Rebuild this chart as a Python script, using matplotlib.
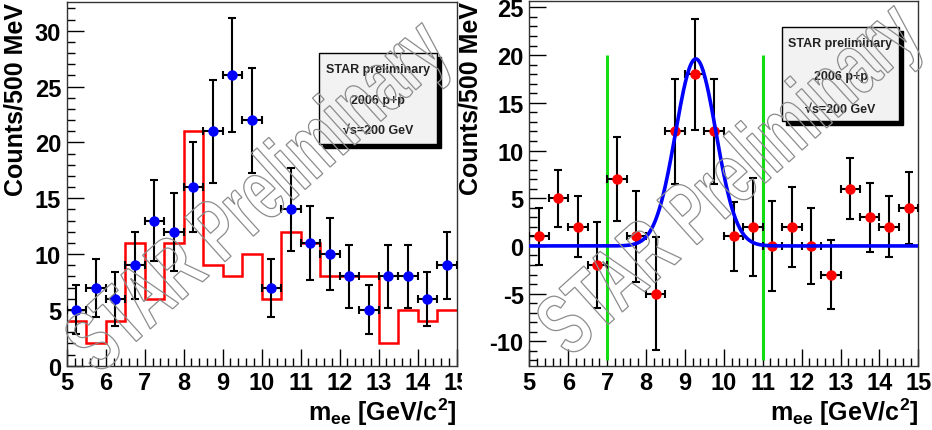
import numpy as np
import matplotlib
matplotlib.use("Agg")
import matplotlib.pyplot as plt
from matplotlib.patches import Rectangle, PathPatch
from matplotlib.textpath import TextPath
from matplotlib.font_manager import FontProperties
from matplotlib.transforms import Affine2D
from matplotlib.ticker import MultipleLocator

plt.rcParams["font.family"] = ["Liberation Sans", "DejaVu Sans"]
plt.rcParams["font.weight"] = "bold"
plt.rcParams["mathtext.fontset"] = "custom"
plt.rcParams["mathtext.rm"] = "Liberation Sans:bold"
plt.rcParams["mathtext.bf"] = "Liberation Sans:bold"
plt.rcParams["mathtext.default"] = "bf"
plt.rcParams["axes.unicode_minus"] = False

# bins of 500 MeV from 5 to 15 GeV/c^2
edges = np.linspace(5, 15, 21)
centers = edges[:-1] + 0.25

# left: unlike-sign counts and like-sign background
counts_left = [5, 7, 6, 9, 13, 12, 16, 21, 26, 22, 7, 14, 11, 10, 8, 5, 8, 8, 6, 9]
err_left = [2.2, 2.6, 2.4, 3.0, 3.6, 3.5, 4.0, 4.6, 5.1, 4.7,
            2.6, 3.7, 3.3, 3.2, 2.8, 2.2, 2.8, 2.8, 2.4, 3.0]
bkg_left = [4, 2, 4, 11, 6, 11, 21, 9, 8, 10, 6, 12, 11, 8, 8, 8, 2, 5, 4, 5]

# right: background subtracted
counts_right = [1, 5, 2, -2, 7, 1, -5, 12, 18, 12, 1, 2, 0, 2, 0, -3, 6, 3, 2, 4]
err_right = [3.0, 3.0, 3.2, 4.5, 4.4, 4.8, 5.9, 5.5, 5.8, 5.5,
             3.6, 5.1, 4.7, 4.2, 4.0, 3.6, 3.2, 3.6, 3.2, 3.8]

# gaussian fit parameters
fit_amp, fit_mean, fit_sigma = 19.6, 9.28, 0.52
window = [7, 11]

W, H = 932, 431
fig = plt.figure(figsize=(W / 100, H / 100), dpi=100)


def px_axes(x0, x1, ytop, ybot):
    return fig.add_axes([x0 / W, (H - ybot) / H, (x1 - x0) / W, (ybot - ytop) / H])


def style(ax, ymajor):
    ax.set_xlim(5, 15)
    ax.xaxis.set_major_locator(MultipleLocator(1))
    ax.xaxis.set_minor_locator(MultipleLocator(0.2))
    ax.yaxis.set_major_locator(MultipleLocator(ymajor))
    ax.yaxis.set_minor_locator(MultipleLocator(1))
    ax.tick_params(which="both", direction="in", top=False, right=False,
                   labelsize=17, width=1, pad=4)
    ax.tick_params(which="major", length=12)
    ax.tick_params(which="minor", length=6)
    for s in ax.spines.values():
        s.set_linewidth(1)
        s.set_color("#333333")
    ax.set_ylabel("Counts/500 MeV", loc="top", fontsize=18, fontweight="bold", labelpad=5)
    ax.set_xlabel(r"m$_{ee}$ [GeV/c$^{2}$]", loc="right", fontsize=18,
                  fontweight="bold", labelpad=1)


def star_box(ax, x0, x1, y0, y1, ys):
    dx, dy = 4 / 390, 4 / 365
    ax.add_patch(Rectangle((x0 + dx, y0 - dy), x1 - x0, y1 - y0, transform=ax.transAxes,
                           facecolor="black", edgecolor="black", zorder=5))
    ax.add_patch(Rectangle((x0, y0), x1 - x0, y1 - y0, transform=ax.transAxes,
                           facecolor="#f2f2f2", edgecolor="black", lw=1, zorder=6))
    xc = (x0 + x1) / 2
    for txt, yy in zip(["STAR preliminary", "2006 p+p", "√s=200 GeV"], ys):
        ax.text(xc, yy, txt, transform=ax.transAxes, ha="center", va="center",
                fontsize=9, fontweight="bold", zorder=7, color="#222222")


# left panel
ax1 = px_axes(66.7, 456.7, 2.7, 366.7)
ax1.stairs(bkg_left, edges, baseline=None, color="red", lw=1.8, zorder=2)
ax1.errorbar(centers, counts_left, yerr=err_left, xerr=0.25, fmt="o", color="blue",
             markersize=6.5, ecolor="black", elinewidth=1.5, capsize=3, capthick=1.5,
             zorder=3)
ax1.set_ylim(0, 32.6)
style(ax1, 5)
star_box(ax1, 0.648, 0.949, 0.609, 0.858, [0.815, 0.729, 0.647])

# right panel
ax2 = px_axes(529.3, 918.3, 1.7, 366.7)
xf = np.linspace(5, 14.95, 400)
yf = fit_amp * np.exp(-0.5 * ((xf - fit_mean) / fit_sigma) ** 2)
ax2.vlines(window, -12, 20, color="#11dd11", lw=2.2, zorder=2)
ax2.errorbar(centers, counts_right, yerr=err_right, xerr=0.25, fmt="o", color="red",
             markersize=6.5, ecolor="black", elinewidth=1.5, capsize=3, capthick=1.5,
             zorder=3)
ax2.plot(xf, yf, color="blue", lw=2.6, zorder=4)
ax2.set_ylim(-12.55, 25.7)
style(ax2, 5)
star_box(ax2, 0.650, 0.950, 0.670, 0.929, [0.884, 0.794, 0.703])

# cut off part of the left "15" label like the pad edge
fig.patches.append(Rectangle((462 / W, 0), 8 / W, 60 / H, transform=fig.transFigure,
                             facecolor="white", edgecolor="none", zorder=1))

# hollow, tall-and-narrow watermark, one per pad (pixel positions)
wm = TextPath((0, 0), "STAR Preliminary", size=60,
              prop=FontProperties(family="Liberation Sans", weight="bold"))
ext = wm.get_extents()
for cx, cy in [(261, 200), (733, 183)]:
    tr = (Affine2D().translate(-(ext.x0 + ext.x1) / 2, -(ext.y0 + ext.y1) / 2)
          .scale(0.95, 1.45).rotate_deg(42).translate(cx, H - cy))
    fig.add_artist(PathPatch(wm, transform=tr, facecolor="none", edgecolor="#8c8c8c",
                             lw=0.9, zorder=3))

fig.savefig("out.png", dpi=100)
